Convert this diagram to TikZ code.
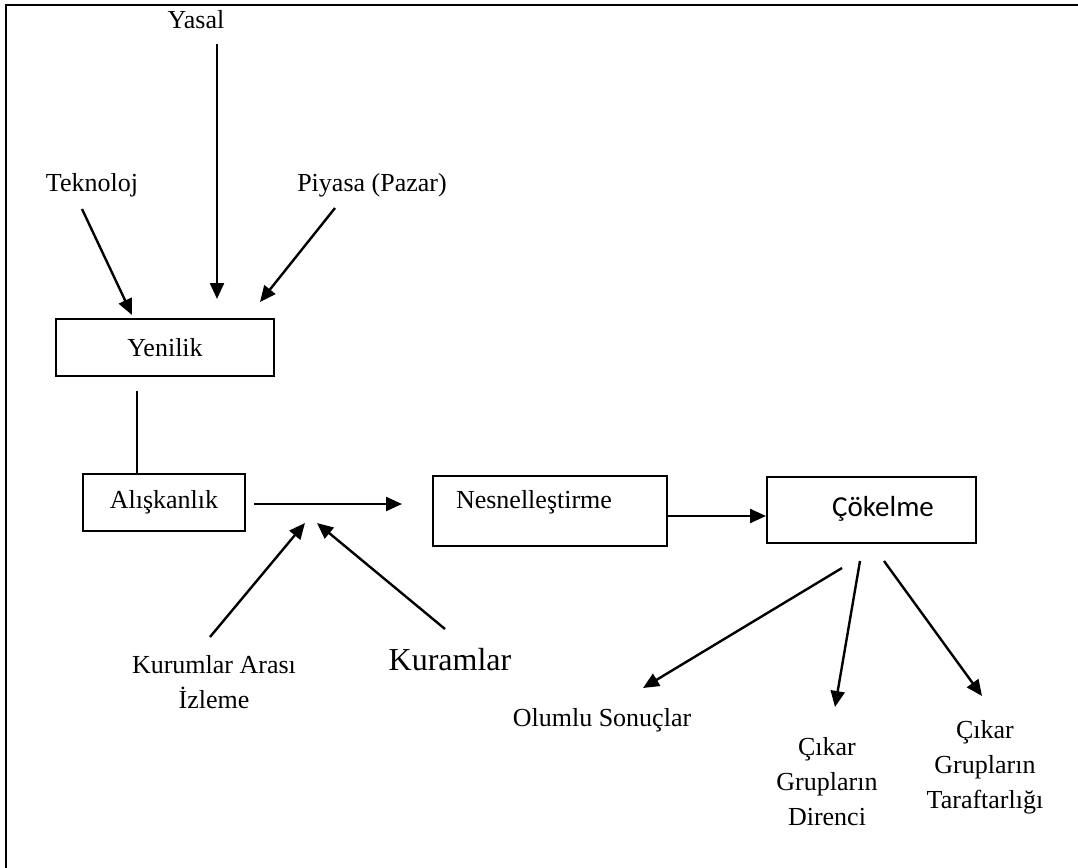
\documentclass[tikz,border=0pt]{standalone}
\usepackage{fontspec}
\setmainfont{Liberation Serif}
\newfontfamily\carlito{Carlito}
\usetikzlibrary{arrows.meta,calc}
\tikzset{
	kutu/.style={draw, line width=1pt, inner sep=0pt, font=\fontsize{13}{16}\selectfont},
	yazi/.style={inner sep=1pt, align=center, font=\fontsize{13}{17.5}\selectfont},
	ok/.style={line width=1.2pt, -{Triangle[length=8pt,width=7pt]}},
}

\begin{document}
\begin{tikzpicture}[x=0.5pt,y=-0.5pt]
		%%%%% START %%%%%
		\useasboundingbox (0,0) rectangle (1078,868);
		\draw[line width=1pt] (1078,5) -- (6,5) -- (6,868);
		
		\node[yazi] (yasal) at (196,20) {Yasal};
		\node[yazi] (teknoloji) at (92,185) {Teknoloj};
		\node[yazi] (piyasa) at (372,185) {Piyasa (Pazar)};
		
		\node[kutu, minimum width=109pt, minimum height=28.5pt] (yenilik) at (165,347.5) {Yenilik};
		\node[kutu, minimum width=81pt, minimum height=28.5pt] (alis) at (164,502.5) {Alışkanlık};
		\node[kutu, minimum width=117pt, minimum height=35pt,
			label={[yazi, xshift=-8pt, yshift=4.5pt]center:Nesnelleştirme}] (nesnel) at (550,511) {};
		\node[kutu, minimum width=104.5pt, minimum height=33pt,
			label={[font=\carlito\fontsize{14.5}{17}\selectfont, xshift=5.75pt, yshift=0.75pt]center:Çökelme}] (cokelme) at (871.5,510) {};
		
		\node[yazi] (kurumlar) at (214,682) {Kurumlar Arası\\İzleme};
		\node[yazi, font=\fontsize{16}{19}\selectfont] (kuramlar) at (450,660) {Kuramlar};
		
		\node[yazi] (olumlu) at (602,720) {Olumlu Sonuçlar};
		\node[yazi] (direnci) at (827,781.5) {Çıkar\\Grupların\\Direnci};
		\node[yazi] (taraf) at (985,767.5) {Çıkar\\Grupların\\Taraftarlığı};
		
		% arrow tips
		\coordinate (yasalUc) at (217,299);
		\coordinate (tekUc) at (132,315);
		\coordinate (piyasaUc) at (260,302);
		\coordinate (dikey) at (137,430);
		\coordinate (kurumUc) at (305,523);
		\coordinate (kuramUc) at (317,523);
		\coordinate (olumluUc) at (643,688);
		\coordinate (direnciUc) at (835,707);
		\coordinate (tarafUc) at (982,696);
		
		\draw[ok] ([shift={(21,24)}]yasal.center) -- (yasalUc);
		\draw[ok] ([shift={(-10,24)}]teknoloji.center) -- (tekUc);
		\draw[ok] ([shift={(-37,23)}]piyasa.center) -- (piyasaUc);
		
		\draw[line width=1.2pt, shorten <=7pt] (yenilik.south -| dikey) -- (alis.north -| dikey);
		\draw[ok, shorten <=4pt, shorten >=15pt] ([yshift=-0.75pt]alis.east) -- ([yshift=-0.75pt]alis.east -| nesnel.west);
		\draw[ok] ([yshift=-2.5pt]nesnel.east) -- ([yshift=-2.5pt]nesnel.east -| cokelme.west);
		
		\draw[ok] ([shift={(-4,-45)}]kurumlar.center) -- (kurumUc);
		\draw[ok] ([shift={(-5,-31)}]kuramlar.center) -- (kuramUc);
		
		\draw[ok] ([shift={(-29.5,24)}]cokelme.south) -- (olumluUc);
		\draw[ok] ([shift={(-11.5,17)}]cokelme.south) -- (direnciUc);
		\draw[ok] ([shift={(12.5,17)}]cokelme.south) -- (tarafUc);
		%%%%% END %%%%%
\end{tikzpicture}
\end{document}
